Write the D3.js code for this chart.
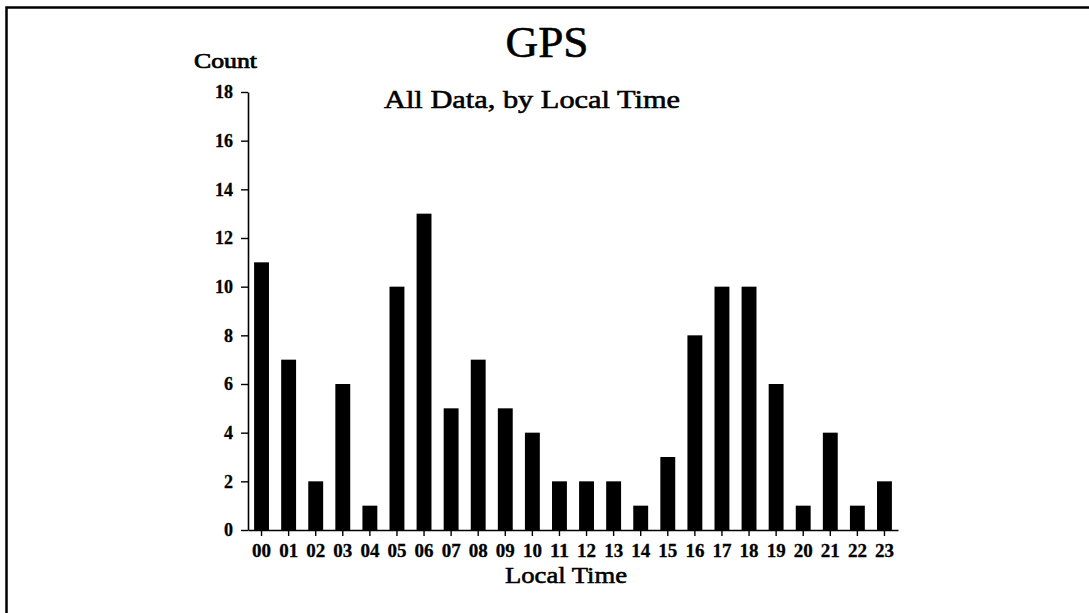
<!DOCTYPE html>
<html>
<head>
<meta charset="utf-8">
<script src="https://cdn.jsdelivr.net/npm/d3@7"></script>
<style>
  html, body { margin: 0; padding: 0; background: #fff; }
  svg { display: block; }
  text { font-family: "Liberation Serif", "Times New Roman", serif; fill: #000; }
</style>
</head>
<body>
<svg id="chart" width="1089" height="613"></svg>
<script>
const hours = ["00","01","02","03","04","05","06","07","08","09","10","11","12","13","14","15","16","17","18","19","20","21","22","23"];
const counts = [11,7,2,6,1,10,13,5,7,5,4,2,2,2,1,3,8,10,10,6,1,4,1,2];
const yTicks = [0,2,4,6,8,10,12,14,16,18];
const titleText = "GPS";
const subtitleText = "All Data, by Local Time";
const yLabelText = "Count";
const xLabelText = "Local Time";

const svg = d3.select("#chart");
const W = 1089, H = 613;

// frame
svg.append("rect")
  .attr("x", 6.5).attr("y", 7.5)
  .attr("width", W + 20).attr("height", H + 20)
  .attr("fill", "none").attr("stroke", "#000").attr("stroke-width", 2.5);

const x = d3.scaleBand().domain(hours).range([248, 898]).paddingInner(0.45).paddingOuter(0.225);
const y = d3.scaleLinear().domain([0, 18]).range([530, 92]);

// bars
svg.append("g").selectAll("rect").data(hours).join("rect")
  .attr("x", d => x(d))
  .attr("y", (d, i) => y(counts[i]))
  .attr("width", x.bandwidth())
  .attr("height", (d, i) => y(0) - y(counts[i]))
  .attr("fill", "#000");

// y axis
const yAxis = svg.append("g").attr("transform", "translate(248,0)")
  .call(d3.axisLeft(y).tickValues(yTicks).tickSize(7).tickPadding(8).tickSizeOuter(0));
yAxis.select(".domain").attr("stroke-width", 1.6);
yAxis.selectAll(".tick line").attr("stroke-width", 1.4);
yAxis.selectAll(".tick text")
  .style("font-family", '"Liberation Serif", serif')
  .style("font-weight", "bold").style("font-size", "18px").attr("fill", "#000")
  .attr("stroke", "#000").attr("stroke-width", 0.3)
  .attr("textLength", d => String(d).length * 9).attr("lengthAdjust", "spacingAndGlyphs");

// x axis
const xAxis = svg.append("g").attr("transform", "translate(0,530)")
  .call(d3.axisBottom(x).tickSize(6).tickPadding(8).tickSizeOuter(0));
xAxis.select(".domain").attr("stroke-width", 1.6);
xAxis.selectAll(".tick line").attr("stroke-width", 1.4);
xAxis.selectAll(".tick text")
  .style("font-family", '"Liberation Serif", serif')
  .style("font-weight", "bold").style("font-size", "18px").attr("fill", "#000")
  .attr("stroke", "#000").attr("stroke-width", 0.3)
  .attr("textLength", 19).attr("lengthAdjust", "spacingAndGlyphs");

// titles
svg.append("text").attr("x", 547).attr("y", 57).attr("text-anchor", "middle")
  .style("font-size", "44px").attr("stroke", "#000").attr("stroke-width", 0.6)
  .attr("textLength", 83).attr("lengthAdjust", "spacingAndGlyphs")
  .text(titleText);
svg.append("text").attr("x", 532).attr("y", 108).attr("text-anchor", "middle")
  .style("font-size", "26px").attr("stroke", "#000").attr("stroke-width", 0.6)
  .attr("textLength", 296).attr("lengthAdjust", "spacingAndGlyphs")
  .text(subtitleText);
svg.append("text").attr("x", 194).attr("y", 68)
  .style("font-size", "20px").attr("stroke", "#000").attr("stroke-width", 0.7)
  .attr("textLength", 63).attr("lengthAdjust", "spacingAndGlyphs")
  .text(yLabelText);
svg.append("text").attr("x", 566).attr("y", 583).attr("text-anchor", "middle")
  .style("font-size", "24px").attr("stroke", "#000").attr("stroke-width", 0.6)
  .attr("textLength", 122).attr("lengthAdjust", "spacingAndGlyphs")
  .text(xLabelText);
</script>
</body>
</html>
